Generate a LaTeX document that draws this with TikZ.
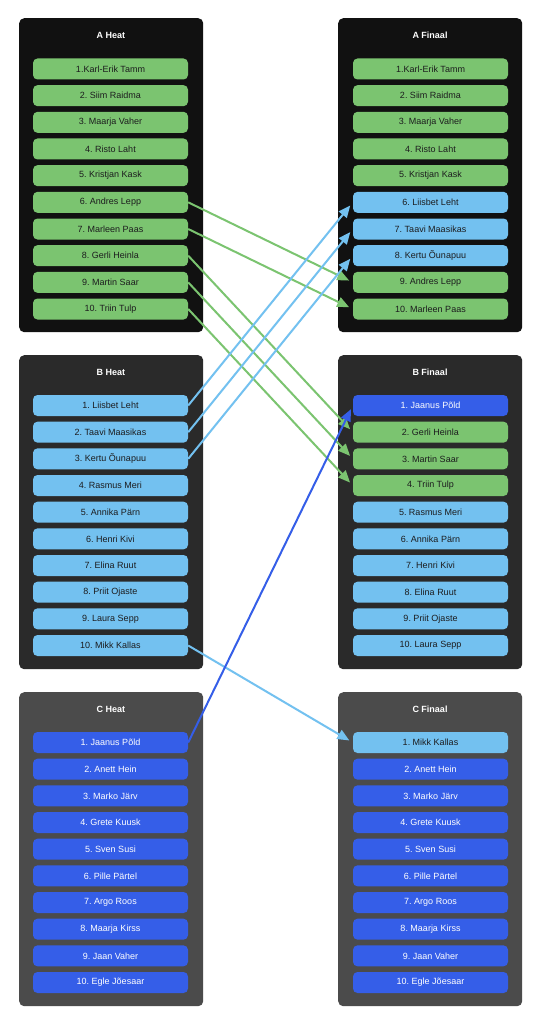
\documentclass[tikz,border=0pt]{standalone}
\usepackage{fontspec}
\setmainfont{Liberation Sans}
\usetikzlibrary{arrows.meta}
\frenchspacing
\definecolor{cgreen}{HTML}{7BC470}
\definecolor{clight}{HTML}{73C1F0}
\definecolor{cblue}{HTML}{355EE8}
\definecolor{ctext}{HTML}{1C1C1E}
\definecolor{cpA}{HTML}{111111}
\definecolor{cpB}{HTML}{2A2A2A}
\definecolor{cpC}{HTML}{4B4B4B}
\tikzset{
  panelbox/.style={rounded corners=5pt, minimum width=184pt, minimum height=314pt, inner sep=0pt, anchor=north west},
  item/.style={rounded corners=4.5pt, minimum width=155pt, minimum height=21pt, inner sep=0pt, font=\fontsize{9}{11}\selectfont},
  gi/.style={item, fill=cgreen, text=ctext},
  li/.style={item, fill=clight, text=ctext},
  bi/.style={item, fill=cblue, text=white},
  ttl/.style={text=white, font=\bfseries\fontsize{9}{11}\selectfont},
  conn/.style={line width=2pt, -{Triangle[length=12pt,width=10pt]}, shorten >=4pt},
}
\begin{document}
\begin{tikzpicture}[x=1pt,y=-1pt]
\fill[white] (0,0) rectangle (542,1024);
\useasboundingbox (0,0) rectangle (542,1024);
% ---------- A ----------
\node[panelbox, fill=cpA] (pHA) at (19,18) {};
\node[ttl] (tHA) at (111,35) {A Heat};
\foreach \s/\t [count=\i] in {gi/1.Karl-Erik Tamm, gi/2. Siim Raidma, gi/3. Maarja Vaher, gi/4. Risto Laht, gi/5. Kristjan Kask, gi/6. Andres Lepp, gi/7. Marleen Paas, gi/8. Gerli Heinla, gi/9. Martin Saar, gi/10. Triin Tulp}
  \node[\s] (hA\i) at ({110.5},{69+(\i-1)*26.667}) {\t};
\node[panelbox, fill=cpA] (pFA) at (338,18) {};
\node[ttl] (tFA) at (430,35) {A Finaal};
\foreach \s/\t [count=\i] in {gi/1.Karl-Erik Tamm, gi/2. Siim Raidma, gi/3. Maarja Vaher, gi/4. Risto Laht, gi/5. Kristjan Kask, li/6. Liisbet Leht, li/7. Taavi Maasikas, li/8. Kertu Õunapuu, gi/9. Andres Lepp, gi/10. Marleen Paas}
  \node[\s] (fA\i) at ({430.5},{69+(\i-1)*26.667}) {\t};
% ---------- B ----------
\node[panelbox, fill=cpB] (pHB) at (19,355) {};
\node[ttl] (tHB) at (111,372) {B Heat};
\foreach \s/\t [count=\i] in {li/1. Liisbet Leht, li/2. Taavi Maasikas, li/3. Kertu Õunapuu, li/4. Rasmus Meri, li/5. Annika Pärn, li/6. Henri Kivi, li/7. Elina Ruut, li/8. Priit Ojaste, li/9. Laura Sepp, li/10. Mikk Kallas}
  \node[\s] (hB\i) at ({110.5},{405.5+(\i-1)*26.667}) {\t};
\node[panelbox, fill=cpB] (pFB) at (338,355) {};
\node[ttl] (tFB) at (430,372) {B Finaal};
\foreach \s/\t [count=\i] in {bi/1. Jaanus Põld, gi/2. Gerli Heinla, gi/3. Martin Saar, gi/4. Triin Tulp, li/5. Rasmus Meri, li/6. Annika Pärn, li/7. Henri Kivi, li/8. Elina Ruut, li/9. Priit Ojaste, li/10. Laura Sepp}
  \node[\s] (fB\i) at ({430.5},{405.5+(\i-1)*26.667}) {\t};
% ---------- C ----------
\node[panelbox, fill=cpC] (pHC) at (19,692) {};
\node[ttl] (tHC) at (111,709) {C Heat};
\foreach \s/\t [count=\i] in {bi/1. Jaanus Põld, bi/2. Anett Hein, bi/3. Marko Järv, bi/4. Grete Kuusk, bi/5. Sven Susi, bi/6. Pille Pärtel, bi/7. Argo Roos, bi/8. Maarja Kirss, bi/9. Jaan Vaher, bi/10. Egle Jõesaar}
  \node[\s] (hC\i) at ({110.5},{742.5+(\i-1)*26.667}) {\t};
\node[panelbox, fill=cpC] (pFC) at (338,692) {};
\node[ttl] (tFC) at (430,709) {C Finaal};
\foreach \s/\t [count=\i] in {li/1. Mikk Kallas, bi/2. Anett Hein, bi/3. Marko Järv, bi/4. Grete Kuusk, bi/5. Sven Susi, bi/6. Pille Pärtel, bi/7. Argo Roos, bi/8. Maarja Kirss, bi/9. Jaan Vaher, bi/10. Egle Jõesaar}
  \node[\s] (fC\i) at ({430.5},{742.5+(\i-1)*26.667}) {\t};
% ---------- connectors ----------
\draw[conn, cgreen] (hA6.east) -- (fA9.west);
\draw[conn, cgreen] (hA7.east) -- (fA10.west);
\draw[conn, cgreen] (hA8.east) -- (fB2.west);
\draw[conn, cgreen] (hA9.east) -- (fB3.west);
\draw[conn, cgreen] (hA10.east) -- (fB4.west);
\draw[conn, clight] (hB1.east) -- (fA6.west);
\draw[conn, clight] (hB2.east) -- (fA7.west);
\draw[conn, clight] (hB3.east) -- (fA8.west);
\draw[conn, clight] (hB10.east) -- (fC1.west);
\draw[conn, cblue] (hC1.east) -- (fB1.west);
\end{tikzpicture}
\end{document}
